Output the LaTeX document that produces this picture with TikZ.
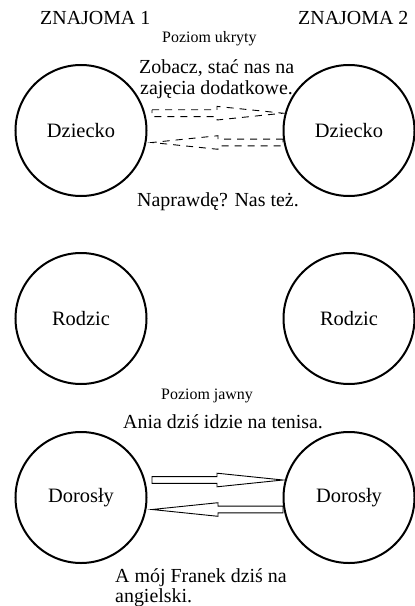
\documentclass[tikz,border=0pt]{standalone}
\usepackage{fontspec}
\setmainfont{Liberation Serif}
\usetikzlibrary{calc}
\begin{document}
\begin{tikzpicture}[x=1bp,y=-1bp,
  person/.style={circle, draw, line width=2bp, minimum size=131bp, inner sep=0pt, font=\fontsize{20.5}{24}\selectfont},
  lbl/.style={anchor=base west, inner sep=0pt, font=\fontsize{20}{24}\selectfont},
  small/.style={anchor=base west, inner sep=0pt, font=\fontsize{16}{19}\selectfont},
  dsh/.style={dash pattern=on 7bp off 6bp},
  pics/barrow/.style={code={\draw[line width=0.9bp,#1] (0,-3.4) -- (65,-3.4) -- (65,-6.8) -- (131,0) -- (65,6.8) -- (65,3.4) -- (0,3.4) -- cycle;}}
]
\path[use as bounding box, fill=white] (0,0) rectangle (414,606);

\node[person] (dzL) at (81,130.5) {Dziecko};
\node[person] (dzR) at (349,130.5) {Dziecko};
\node[person] (roL) at (81,318.5) {Rodzic};
\node[person] (roR) at (349,318.5) {Rodzic};
\node[person] (doL) at (81,497.5) {Dorosły};
\node[person] (doR) at (349,497.5) {Dorosły};

\node[lbl] (z1) at (40,25) {ZNAJOMA 1};
\node[lbl] (z2) at (298,25) {ZNAJOMA 2};
\node[small] (pu) at (162,43) {Poziom ukryty};
\node[lbl] (m1a) at (139,74) {Zobacz, stać nas na};
\node[lbl] (m1b) at (140,95) {zajęcia dodatkowe.};
\node[lbl] (m2) at (137,206) {Naprawdę? Nas też.};
\node[small] (pj) at (161,399) {Poziom jawny};
\node[lbl] (m3) at (123,428) {Ania dziś idzie na tenisa.};
\node[lbl] (m4a) at (115,582) {A mój Franek dziś na};
\node[lbl] (m4b) at (115,602) {angielski.};

\pic (a1) at ($(dzL.center)+(71,-17.3)$) {barrow=dsh};
\pic[xscale=-1] (a2) at ($(dzR.center)+(-66,12)$) {barrow=dsh};
\pic (a3) at ($(doL.center)+(71,-17.5)$) {barrow=};
\pic[xscale=-1] (a4) at ($(doR.center)+(-66,12)$) {barrow=};
\end{tikzpicture}
\end{document}
